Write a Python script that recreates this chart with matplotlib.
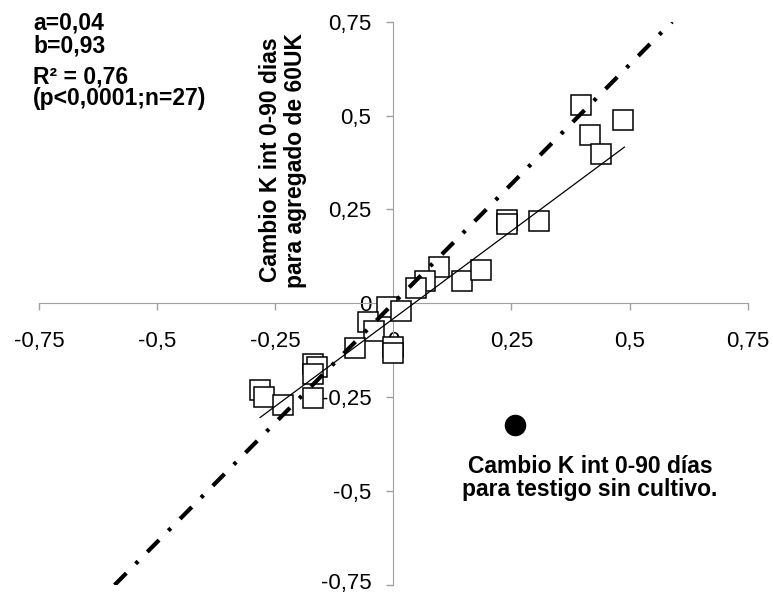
import matplotlib
matplotlib.use('Agg')
import matplotlib.pyplot as plt
import matplotlib.transforms as mtransforms

# squares: change in K (0-90 d), x = control without crop, y = 60UK added
k_testigo = [0.398, 0.487, 0.417, 0.439, 0.240, 0.240, 0.309, 0.097, 0.068, 0.048,
             0.146, 0.186, -0.014, 0.017, -0.053, -0.042, -0.001, -0.001, -0.082,
             -0.282, -0.274, -0.233, -0.171, -0.161, -0.171, -0.171]
k_60uk = [0.529, 0.489, 0.449, 0.398, 0.222, 0.210, 0.218, 0.098, 0.059, 0.041,
          0.059, 0.088, -0.010, -0.020, -0.050, -0.073, -0.115, -0.131, -0.120,
          -0.231, -0.250, -0.271, -0.161, -0.170, -0.189, -0.253]

# fitted line and dash-dot reference line (end points)
fit_x = [-0.282, 0.489]
fit_y = [-0.304, 0.416]
ref_x = [-0.59, 0.59]
ref_y = [-0.75, 0.75]

# single black circle
circle_x = [0.258]
circle_y = [-0.323]

ticks = [-0.75, -0.5, -0.25, 0, 0.25, 0.5, 0.75]
tick_labels = ['-0,75', '-0,5', '-0,25', '0', '0,25', '0,5', '0,75']

stats_lines = ['a=0,04', 'b=0,93', 'R\u00b2 = 0,76', '(p<0,0001;n=27)']
ylabel_text = 'Cambio K int 0-90 dias\npara agregado de 60UK'
xlabel_text = 'Cambio K int 0-90 días\npara testigo sin cultivo.'

plt.rcParams['font.family'] = ['Liberation Sans', 'DejaVu Sans']
plt.rcParams['lines.scale_dashes'] = False

W, H = 773, 596
fig = plt.figure(figsize=(W / 100, H / 100), dpi=100)
ax = fig.add_axes([39 / W, 1 - 585 / H, 708.7 / W, 563.3 / H])
ax.set_xlim(-0.75, 0.75)
ax.set_ylim(-0.75, 0.75)

grey = '#a0a0a0'
for s in ['top', 'right']:
    ax.spines[s].set_visible(False)
ax.spines['left'].set_position(('data', 0))
ax.spines['bottom'].set_position(('data', 0))
ax.spines['left'].set_color(grey)
ax.spines['bottom'].set_color(grey)

ax.set_xticks(ticks)
ax.set_xticklabels(tick_labels)
ax.set_yticks(ticks)
ax.set_yticklabels(tick_labels)
ax.tick_params(axis='x', direction='out', length=5, width=1, color=grey, labelsize=16, pad=15)
ax.tick_params(axis='y', direction='out', length=5, width=1, color=grey, labelsize=16, pad=11)

# lowest y label sits on the bottom edge; lift it a little so it is not clipped
lowest = ax.get_yticklabels()[0]
lowest.set_transform(lowest.get_transform() +
                     mtransforms.ScaledTranslation(0, 3 / 72, fig.dpi_scale_trans))

ax.plot(k_testigo, k_60uk, linestyle='none', marker='s', markersize=14,
        markerfacecolor='white', markeredgecolor='black', markeredgewidth=1.1, zorder=3)
ax.plot(fit_x, fit_y, color='black', linewidth=0.9, zorder=4)
ln, = ax.plot(ref_x, ref_y, color='black', linewidth=3, zorder=4)
ln.set_dashes((12, 9.5, 2.5, 9.5))
ln.set_dash_capstyle('butt')
ax.plot(circle_x, circle_y, linestyle='none', marker='o', markersize=14.5,
        color='black', zorder=4)

ys = [23, 46, 77, 98]
for txt, yy in zip(stats_lines, ys):
    fig.text(33 / W, 1 - yy / H, txt, fontsize=16.5, fontweight='bold', ha='left', va='center')

fig.text(283 / W, 1 - 160 / H, ylabel_text, fontsize=16.5, fontweight='bold',
         rotation=90, ha='center', va='center', multialignment='center', linespacing=1.1)
fig.text(590 / W, 1 - 478 / H, xlabel_text, fontsize=16.5, fontweight='bold',
         ha='center', va='center', multialignment='center', linespacing=1.0)

fig.savefig('out.png', dpi=100)
